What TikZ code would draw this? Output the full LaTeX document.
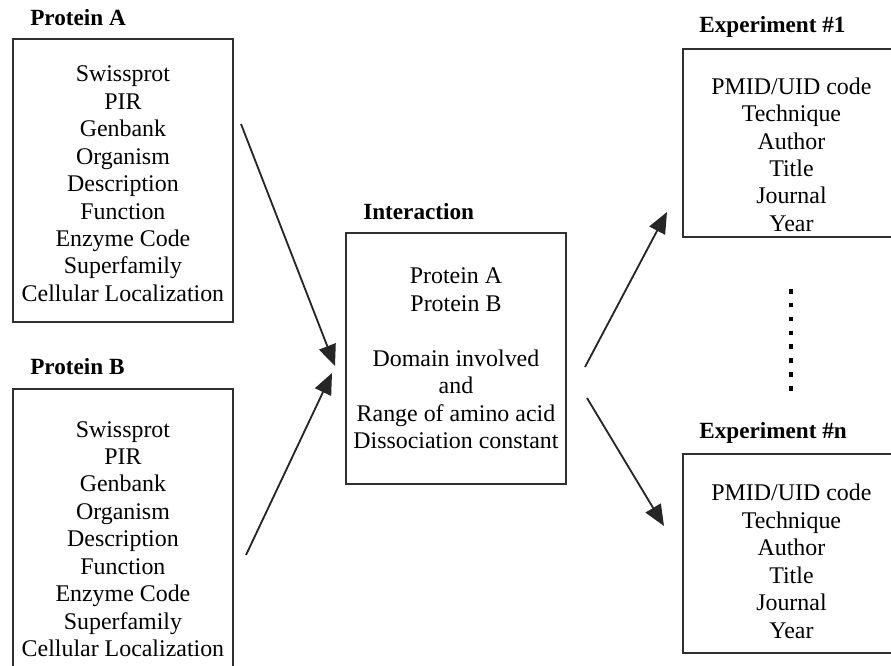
\documentclass[tikz,border=0pt]{standalone}
\usepackage{fontspec}
\setmainfont{Liberation Serif}
\usetikzlibrary{arrows.meta,positioning,calc}
\definecolor{boxgray}{HTML}{303030}
\newcommand{\toppad}[1]{\rule{0pt}{#1}}
\tikzset{
  >={Triangle[length=15pt,width=12.5pt]},
  % boxes
  infobox/.style={draw=boxgray,line width=1.3pt,align=center,inner sep=0pt,
             anchor=north west,font=\fontsize{17}{19.5}\selectfont},
  boxtitle/.style={anchor=west,inner sep=0pt,
             font=\fontsize{16.5}{19.6}\selectfont\bfseries},
  % arrows
  link/.style={->,draw=black!85,line width=1.3pt},
  etc/.style={draw=black,line width=3.4pt,dash pattern=on 3.3pt off 6.55pt},
}
\begin{document}
\begin{tikzpicture}[x=0.025cm,y=-0.025cm]
\clip (0,0) rectangle (891,665);
  \node[boxtitle] (titA) at (30,18) {Protein A};
  \node[infobox,minimum width=5.5cm,minimum height=7.075cm] (protA) at (12,38)
    {\toppad{16pt}Swissprot\\PIR\\Genbank\\Organism\\Description\\Function\\Enzyme Code\\Superfamily\\Cellular Localization};
  \node[boxtitle] (titB) at (30,367) {Protein B};
  \node[infobox,minimum width=5.5cm,minimum height=7.5cm] (protB) at (12,388)
    {Swissprot\\PIR\\Genbank\\Organism\\Description\\Function\\Enzyme Code\\Superfamily\\Cellular Localization};
  \node[boxtitle] (titI) at (363,212) {Interaction};
  \node[infobox,minimum width=5.5cm,minimum height=6.275cm] (inter) at (345,232)
    {Protein A\\Protein B\\[19.5pt]Domain involved\\and\\Range of amino acid\\Dissociation constant};
  \node[boxtitle] (titE1) at (699,27) {Experiment \#1};
  \node[infobox,minimum width=5.425cm,minimum height=4.7cm] (exp1) at (682,48)
    {\toppad{28.5pt}PMID/UID code\\Technique\\Author\\Title\\Journal\\Year};
  \node[boxtitle] (titEn) at (699,433) {Experiment \#n};
  \node[infobox,minimum width=5.425cm,minimum height=4.975cm] (expn) at (682,453)
    {\toppad{23pt}PMID/UID code\\Technique\\Author\\Title\\Journal\\Year};
  % arrow ends
  \coordinate (aOut) at (241,124);
  \coordinate (aIn) at (335,366);
  \coordinate (bOut) at (246,555);
  \coordinate (bIn) at (332,373);
  \coordinate (oneOut) at (585,367);
  \coordinate (oneIn) at (667,212);
  \coordinate (nOut) at (587,398);
  \coordinate (nIn) at (664,526);
  \draw[link] (aOut) -- (aIn);
  \draw[link] (bOut) -- (bIn);
  \draw[link] (oneOut) -- (oneIn);
  \draw[link] (nOut) -- (nIn);
  \coordinate (dotsTop) at (791,289);
  \coordinate (dotsBot) at (791,392);
  \draw[etc] (dotsTop) -- (dotsBot);
\end{tikzpicture}
\end{document}
